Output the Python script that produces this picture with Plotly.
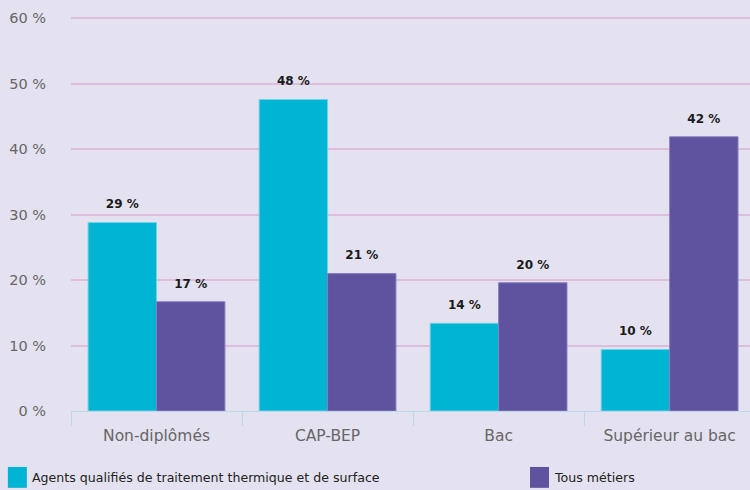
import plotly.graph_objects as go

categories = ["Non-diplômés", "CAP-BEP", "Bac", "Supérieur au bac"]
agents = [28.8, 47.6, 13.4, 9.4]
agents_labels = ["29 %", "48 %", "14 %", "10 %"]
tous = [16.7, 21.0, 19.6, 41.9]
tous_labels = ["17 %", "21 %", "20 %", "42 %"]
y_ticks = [0, 10, 20, 30, 40, 50, 60]
y_ticktext = [f"{v} %" for v in y_ticks]
series_names = ["Agents qualifiés de traitement thermique et de surface", "Tous métiers"]

CYAN = "#00b4d4"
PURPLE = "#5f529f"
BG = "#e4e2f1"
FONT = "DejaVu Sans"

# second (blank) line lifts the value a bit above the bar
lbl = "<span style='font-size:12px'>%{text}</span><br> "

fig = go.Figure()
fig.add_trace(go.Bar(
    x=categories, y=agents, text=agents_labels, name=series_names[0],
    marker=dict(color=CYAN, line=dict(color="#6fd3e6", width=1)),
    textposition="outside", texttemplate=lbl, cliponaxis=False,
    textfont=dict(family=FONT, size=7, color="#1a1a1a", weight="bold"),
))
fig.add_trace(go.Bar(
    x=categories, y=tous, text=tous_labels, name=series_names[1],
    marker=dict(color=PURPLE, line=dict(color="#8a80c0", width=1)),
    textposition="outside", texttemplate=lbl, cliponaxis=False,
    textfont=dict(family=FONT, size=7, color="#1a1a1a", weight="bold"),
))

# legend drawn by hand to get the large square swatches
legend_x = [-0.093, 0.676]
for i, name in enumerate(series_names):
    col = [CYAN, PURPLE][i]
    fig.add_shape(type="rect", xref="paper", yref="paper",
                  x0=legend_x[i], x1=legend_x[i] + 0.028,
                  y0=-0.142, y1=-0.195,
                  fillcolor=col, line=dict(width=0))
    fig.add_annotation(xref="paper", yref="paper", x=legend_x[i] + 0.033, y=-0.170,
                       text=name, showarrow=False, xanchor="left", yanchor="middle",
                       font=dict(family=FONT, size=12.6, color="#222222"))

fig.update_layout(
    width=750, height=490,
    margin=dict(l=71, r=0, t=17, b=79, autoexpand=False),
    paper_bgcolor=BG, plot_bgcolor=BG,
    barmode="group", bargap=0.2, bargroupgap=0,
    showlegend=False,
    font=dict(family=FONT),
)
fig.update_yaxes(
    range=[0, 60.2], tickvals=y_ticks, ticktext=y_ticktext, automargin=False,
    showgrid=True, gridcolor="#ddbcdc", gridwidth=1.5,
    zeroline=False, ticks="", ticklabelstandoff=24,
    tickfont=dict(family=FONT, size=14.5, color="#666666"),
)
fig.update_xaxes(
    range=[-0.5, 3.47], showgrid=False, automargin=False,
    showline=True, linecolor="#bcd6ea", linewidth=1,
    ticks="outside", tickson="boundaries", ticklen=14, tickcolor="#bcd6ea",
    ticklabelstandoff=10,
    tickfont=dict(family=FONT, size=15.5, color="#666666"),
)

fig.write_html("out.html", config={"displayModeBar": False},
               post_script="document.body.style.margin='0';")
